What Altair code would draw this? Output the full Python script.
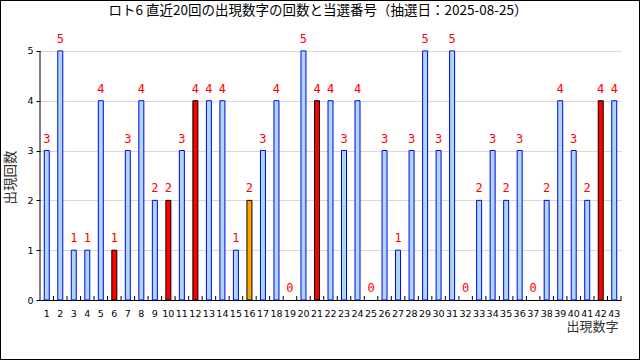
import altair as alt
import pandas as pd

numbers = list(range(1, 44))
counts = [3, 5, 1, 1, 4, 1, 3, 4, 2, 2, 3, 4, 4, 4, 1, 2, 3, 4, 0, 5, 4,
          4, 3, 4, 0, 3, 1, 3, 5, 3, 5, 0, 2, 3, 2, 3, 0, 2, 4, 3, 2, 4, 4]
main_numbers = [6, 10, 12, 21, 42]
bonus_numbers = [16]
title_text = "ロト6 直近20回の出現数字の回数と当選番号（抽選日：2025-08-25）"

status = ["main" if n in main_numbers else "bonus" if n in bonus_numbers else "none"
          for n in numbers]
df = pd.DataFrame({"n": numbers, "c": counts, "s": status})

W, H = 581, 274
PAD = {"left": 40, "top": 26, "right": 19, "bottom": 60}
JP = "Noto Sans CJK JP"
LAB = "DejaVu Sans"

base = alt.Chart(df)

xenc = alt.X(
    "n:O",
    sort=numbers,
    scale=alt.Scale(paddingInner=0, paddingOuter=0),
    axis=alt.Axis(
        title="出現数字", labelAngle=0, ticks=False, labelPadding=8,
        labelOverlap=False, labelFont=LAB, labelFontSize=9.5, labelColor="black",
        domainColor="black", domainWidth=1,
        titleX=578, titleY=26, titleAlign="right", titleBaseline="middle",
        titleFont=JP, titleFontSize=13, titleFontWeight="normal", titleColor="#333333",
    ),
)

yenc = alt.Y(
    "c:Q",
    scale=alt.Scale(domain=[0, 5.5], nice=False),
    axis=alt.Axis(
        values=[0, 1, 2, 3, 4, 5], grid=True, gridColor="#d9d9d9", gridWidth=1,
        tickSize=4, tickColor="black", domain=False, labelPadding=3,
        labelFont=LAB, labelFontSize=9.5, labelColor="black",
        title="出現回数", titleX=-30, titleY=151, titleAngle=-90,
        titleAlign="center", titleBaseline="middle",
        titleFont=JP, titleFontSize=13.5, titleFontWeight="normal", titleColor="#333333",
    ),
)

bars = base.transform_filter("datum.c > 0").mark_bar(size=5, strokeWidth=1).encode(
    x=xenc,
    y=yenc,
    fill=alt.Fill("s:N", scale=alt.Scale(domain=["none", "main", "bonus"],
                                         range=["#add8e6", "#ff0000", "#ffa500"]),
                  legend=None),
    stroke=alt.Stroke("s:N", scale=alt.Scale(domain=["none", "main", "bonus"],
                                             range=["#0000ff", "#000000", "#000000"]),
                      legend=None),
)

labels = base.mark_text(font="DejaVu Sans Mono", fontSize=12, color="red",
                        baseline="bottom", dy=-5).encode(
    x=alt.X("n:O", sort=numbers),
    y=alt.Y("c:Q"),
    text=alt.Text("c:Q"),
)

ticks = base.mark_rule(color="black", strokeWidth=1).encode(
    x=alt.X("n:O", sort=numbers, bandPosition=1),
    y=alt.value(H),
    y2=alt.value(H - 4),
)

one = pd.DataFrame({"a": [0]})

yline = alt.Chart(one).mark_rule(color="black", strokeWidth=1).encode(
    x=alt.value(0),
    y=alt.datum(0),
    y2=alt.datum(5),
)

title = alt.Chart(one).mark_text(
    text=title_text, font=JP, fontSize=13.5, color="black",
    align="center", baseline="middle",
).encode(
    x=alt.value(278),
    y=alt.value(-15),
)

border = alt.Chart(one).mark_rect(
    fillOpacity=0, stroke="black", strokeWidth=2
).encode(
    x=alt.value(-PAD["left"]),
    x2=alt.value(W + PAD["right"]),
    y=alt.value(-PAD["top"]),
    y2=alt.value(H + PAD["bottom"]),
)

chart = alt.layer(bars, ticks, yline, labels, title, border).properties(
    width=W,
    height=H,
    autosize=alt.AutoSizeParams(type="none"),
    padding=PAD,
    background="white",
).configure_view(stroke=None)

chart.save("out.html", embed_options={"renderer": "svg", "actions": False})
